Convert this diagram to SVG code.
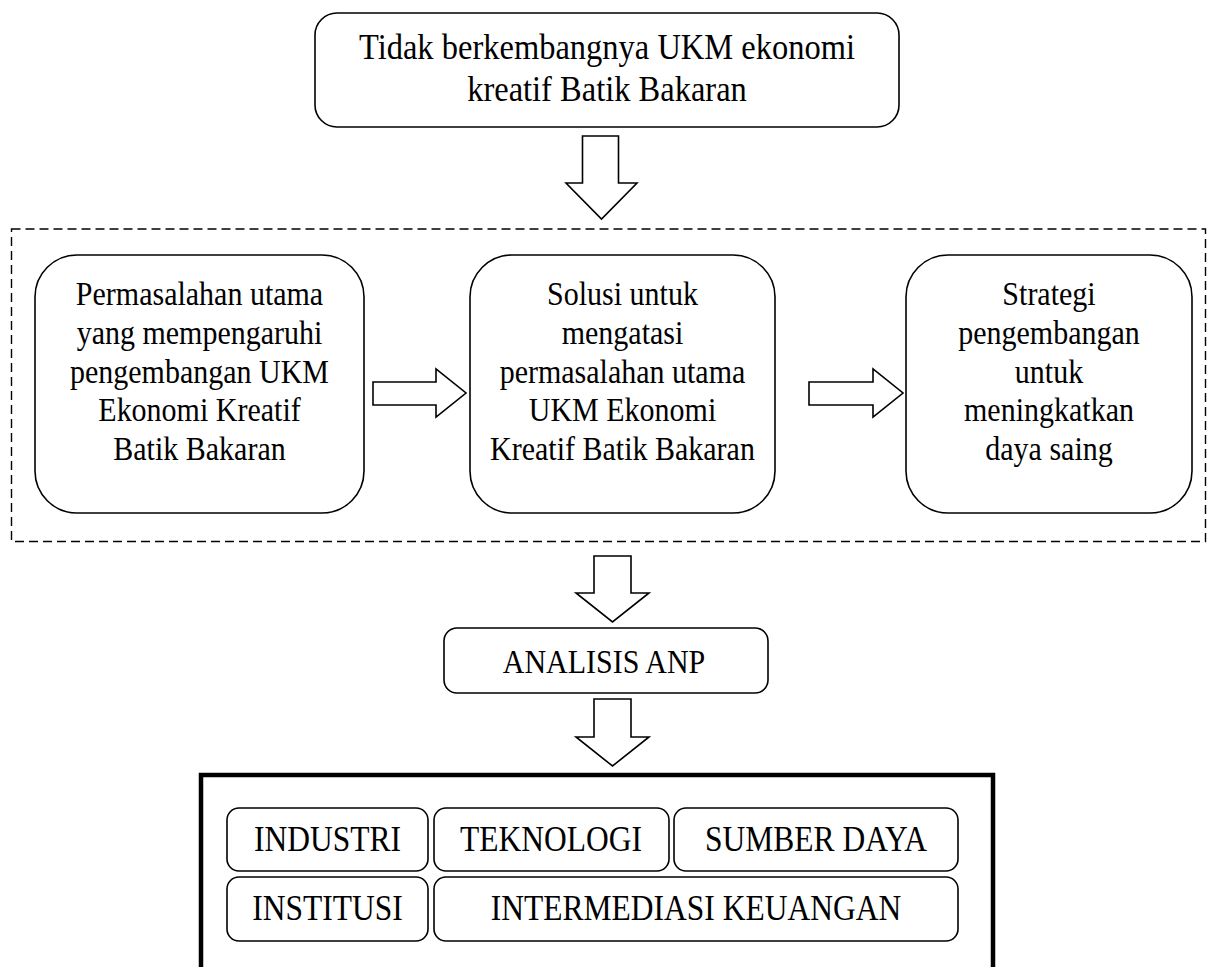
<svg xmlns="http://www.w3.org/2000/svg" width="1209" height="967" viewBox="0 0 1209 967">
<style>
.box{fill:#fff;stroke:#000;stroke-width:1.6}
.arr{fill:#fff;stroke:#000;stroke-width:1.6;stroke-linejoin:miter}
.t{font-family:"Liberation Serif","Times New Roman",serif;fill:#000;text-anchor:middle}
.t30{font-size:30px}
.t32{font-size:32.5px}
.tb{font-size:31.5px}
</style>
<rect width="1209" height="967" fill="#fff"/>

<g id="dashed-frame">
<rect x="11.5" y="229" width="1194" height="312.5" fill="none" stroke="#000" stroke-width="1.4" stroke-dasharray="9 5"/>
</g>

<g id="node-top">
<rect class="box" x="315" y="13" width="584" height="114" rx="22"/>
<text class="t t32" transform="translate(607,59) scale(1,1.12)">Tidak berkembangnya UKM ekonomi</text>
<text class="t t32" transform="translate(607,101) scale(1,1.12)">kreatif Batik Bakaran</text>
</g>

<g id="node-permasalahan">
<rect class="box" x="35" y="255" width="329" height="258" rx="42"/>
<text class="t t30" transform="translate(199.5,305) scale(1,1.12)">Permasalahan utama</text>
<text class="t t30" transform="translate(199.5,344) scale(1,1.12)">yang mempengaruhi</text>
<text class="t t30" transform="translate(199.5,383) scale(1,1.12)">pengembangan UKM</text>
<text class="t t30" transform="translate(199.5,421) scale(1,1.12)">Ekonomi Kreatif</text>
<text class="t t30" transform="translate(199.5,460) scale(1,1.12)">Batik Bakaran</text>
</g>

<g id="node-solusi">
<rect class="box" x="470" y="255" width="305" height="258" rx="42"/>
<text class="t t30" transform="translate(622.5,305) scale(1,1.12)">Solusi untuk</text>
<text class="t t30" transform="translate(622.5,344) scale(1,1.12)">mengatasi</text>
<text class="t t30" transform="translate(622.5,383) scale(1,1.12)">permasalahan utama</text>
<text class="t t30" transform="translate(622.5,421) scale(1,1.12)">UKM Ekonomi</text>
<text class="t t30" transform="translate(622.5,460) scale(1,1.12)">Kreatif Batik Bakaran</text>
</g>

<g id="node-strategi">
<rect class="box" x="906" y="255" width="286" height="258" rx="42"/>
<text class="t t30" transform="translate(1049,305) scale(1,1.12)">Strategi</text>
<text class="t t30" transform="translate(1049,344) scale(1,1.12)">pengembangan</text>
<text class="t t30" transform="translate(1049,383) scale(1,1.12)">untuk</text>
<text class="t t30" transform="translate(1049,421) scale(1,1.12)">meningkatkan</text>
<text class="t t30" transform="translate(1049,460) scale(1,1.12)">daya saing</text>
</g>

<g id="node-anp">
<rect class="box" x="444" y="628" width="324" height="65" rx="13"/>
<text class="t t30" transform="translate(604,673) scale(1,1.12)">ANALISIS ANP</text>
</g>

<g id="node-result">
<rect x="201" y="775" width="792" height="220" fill="#fff" stroke="#000" stroke-width="4.5"/>
<g id="node-industri">
<rect class="box" x="227" y="808" width="201" height="63" rx="12"/>
<text class="t tb" transform="translate(327.5,851) scale(1,1.12)">INDUSTRI</text>
</g>
<g id="node-teknologi">
<rect class="box" x="434" y="808" width="235" height="63" rx="12"/>
<text class="t tb" transform="translate(551,851) scale(1,1.12)">TEKNOLOGI</text>
</g>
<g id="node-sumberdaya">
<rect class="box" x="674" y="808" width="284" height="63" rx="12"/>
<text class="t tb" transform="translate(816,851) scale(1,1.12)">SUMBER DAYA</text>
</g>
<g id="node-institusi">
<rect class="box" x="227" y="877" width="201" height="64" rx="12"/>
<text class="t tb" transform="translate(327.5,920) scale(1,1.12)">INSTITUSI</text>
</g>
<g id="node-intermediasi">
<rect class="box" x="434" y="877" width="524" height="64" rx="12"/>
<text class="t tb" transform="translate(696,920) scale(1,1.12)">INTERMEDIASI KEUANGAN</text>
</g>
</g>

<g id="connectors">
<path class="arr" d="M582.5,136 H618.5 V183 H637 L601.5,219 L566,183 H582.5 Z"/>
<path class="arr" d="M373,382 H436 V369 L466,393 L436,417 V405 H373 Z"/>
<path class="arr" d="M809,382 H873 V369 L903,393 L873,417 V405 H809 Z"/>
<path class="arr" d="M594,556 H631 V593 H649 L612.5,622 L576,593 H594 Z"/>
<path class="arr" d="M594,699 H631 V737 H649 L612.5,766 L576,737 H594 Z"/>
</g>
</svg>
